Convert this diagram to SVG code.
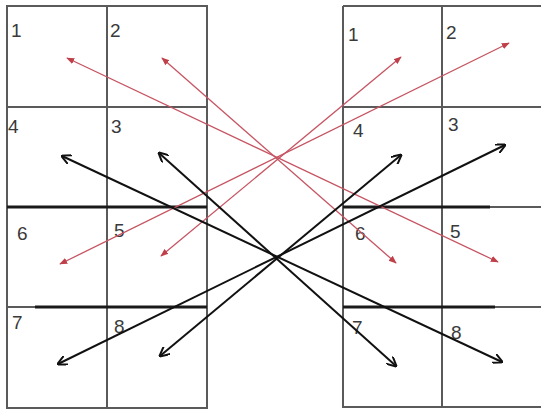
<svg xmlns="http://www.w3.org/2000/svg" width="541" height="410" viewBox="0 0 541 410">
<style>
.g{stroke:#5a5a5a;stroke-width:2;fill:none}
.t{stroke:#1a1a1a;stroke-width:3;fill:none}
.lbl{font-family:"Liberation Sans",Arial,sans-serif;font-size:19px;fill:#3a3a3a}
.red{stroke:#c65462;stroke-width:1.3;fill:none;marker-start:url(#ar);marker-end:url(#ar)}
.blk{stroke:#111;stroke-width:2;fill:none;marker-start:url(#ab);marker-end:url(#ab)}
</style>
<defs>
<marker id="ar" viewBox="0 0 10 10" refX="9" refY="5" markerWidth="8" markerHeight="8" markerUnits="userSpaceOnUse" orient="auto-start-reverse"><path d="M0,1 L10,5 L0,9 Z" fill="#c0404a"/></marker>
<marker id="ab" viewBox="0 0 10 10" refX="9" refY="5" markerWidth="10" markerHeight="10" markerUnits="userSpaceOnUse" orient="auto-start-reverse"><path d="M0,0 L10,5 L0,10" fill="none" stroke="#111" stroke-width="2"/></marker>
</defs>
<rect width="541" height="410" fill="#fff"/>
<g id="left-grid">
<rect class="g" x="7" y="6" width="200" height="402"/>
<line class="g" x1="107" y1="6" x2="107" y2="408"/>
<line class="g" x1="7" y1="107" x2="207" y2="107"/>
<line class="t" x1="7" y1="207" x2="207" y2="207"/>
<line class="g" x1="7" y1="307" x2="35" y2="307"/>
<line class="t" x1="35" y1="307" x2="207" y2="307"/>
</g>
<g id="right-grid">
<line class="g" x1="343" y1="6" x2="541" y2="6"/>
<line class="g" x1="343" y1="6" x2="343" y2="408"/>
<line class="g" x1="442" y1="6" x2="442" y2="408"/>
<line class="g" x1="343" y1="107" x2="541" y2="107"/>
<line class="t" x1="343" y1="207" x2="490" y2="207"/>
<line class="g" x1="490" y1="207" x2="541" y2="207"/>
<line class="t" x1="343" y1="307" x2="495" y2="307"/>
<line class="g" x1="495" y1="307" x2="541" y2="307"/>
<line class="g" x1="343" y1="407" x2="541" y2="407"/>
</g>
<g id="labels-left">
<text class="lbl" x="11" y="37">1</text>
<text class="lbl" x="110" y="37">2</text>
<text class="lbl" x="8" y="133">4</text>
<text class="lbl" x="111" y="133">3</text>
<text class="lbl" x="17" y="240">6</text>
<text class="lbl" x="114" y="237">5</text>
<text class="lbl" x="12" y="329">7</text>
<text class="lbl" x="114" y="333">8</text>
</g>
<g id="labels-right">
<text class="lbl" x="348" y="41">1</text>
<text class="lbl" x="446" y="39">2</text>
<text class="lbl" x="353" y="137">4</text>
<text class="lbl" x="448" y="131">3</text>
<text class="lbl" x="355" y="240">6</text>
<text class="lbl" x="450" y="238">5</text>
<text class="lbl" x="352" y="334">7</text>
<text class="lbl" x="451" y="339">8</text>
</g>
<g id="connectors">
<line class="red" x1="67" y1="58" x2="498" y2="262"/>
<line class="red" x1="162" y1="58" x2="396" y2="263"/>
<line class="red" x1="401" y1="57" x2="161" y2="256"/>
<line class="red" x1="509" y1="43" x2="60" y2="264"/>
<line class="blk" x1="62" y1="156" x2="502" y2="362"/>
<line class="blk" x1="159" y1="153" x2="396" y2="366"/>
<line class="blk" x1="401" y1="155" x2="160" y2="356"/>
<line class="blk" x1="505" y1="145" x2="58" y2="364"/>
</g>
</svg>
